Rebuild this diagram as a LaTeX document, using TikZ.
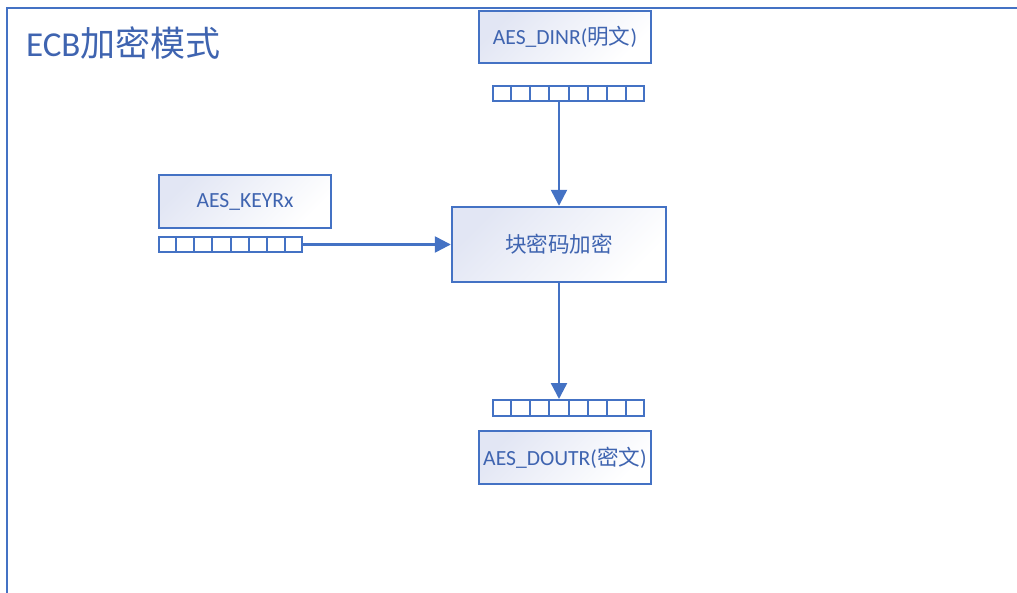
\documentclass[tikz,border=0pt]{standalone}
\usepackage{fontspec}
\setmainfont{Carlito}
\newfontfamily\cjk{Noto Sans CJK SC}
\usepackage{tikz}
\usetikzlibrary{arrows.meta,calc}
\definecolor{lineblue}{RGB}{68, 114, 196}
\definecolor{textblue}{RGB}{63, 100, 176}
\definecolor{boxtint}{RGB}{226, 230, 244}

\begin{document}
\begin{tikzpicture}[x=0.5pt, y=-0.5pt,
    every node/.style={font=\fontsize{10.8}{12}\selectfont, text=textblue},
    regbox/.style={draw=lineblue, line width=1.2pt, top color=boxtint, bottom color=white, shading angle=45, minimum width=86pt, minimum height=26pt, inner sep=0pt, align=center},
    regbar/.style={draw=lineblue, line width=1pt, fill=white, minimum height=7.5pt, inner sep=0pt},
    link/.style={draw=lineblue, line width=1.2pt, -{Triangle[length=8pt, width=8pt]}}]
    \useasboundingbox (0,0) rectangle (1017,593);

    % Frame and title
    \draw[lineblue, line width=1.1pt] (7,593) -- (7,8) -- (1017,8);
    \node[anchor=west, font=\fontsize{17.5}{20}\selectfont] (title) at (19,43) {ECB{\cjk 加密模式}};

    % Input data register
    \node[regbox] (din) at (565,37) {AES\_DINR({\cjk 明文})};
    \node[regbar, minimum width=75.5pt] (dinreg) at (568.5,93.5) {};

    % Key register
    \node[regbox, minimum height=26.5pt] (key) at (245,201.5) {AES\_KEYRx};
    \node[regbar, minimum width=71.5pt] (keyreg) at (230.5,244.5) {};

    % Cipher block
    \node[regbox, minimum width=107pt, minimum height=37.5pt] (enc) at (559,244.5) {{\cjk 块密码加密}};

    % Output data register
    \node[regbar, minimum width=75.5pt, minimum height=8pt] (doutreg) at (568.5,408) {};
    \node[regbox, minimum height=26.5pt] (dout) at (565,457.5) {AES\_DOUTR({\cjk 密文})};

    % Cell dividers
    \foreach \r in {dinreg,keyreg,doutreg}
        \foreach \i in {1,...,7}
            \draw[lineblue, line width=1pt] ($(\r.north west)!\i/8!(\r.north east)$) -- ($(\r.south west)!\i/8!(\r.south east)$);

    % Connectors
    \draw[link] (enc.north |- dinreg.south) -- (enc.north);
    \draw[link] (keyreg.east) -- (enc.west);
    \draw[link] (enc.south) -- (enc.south |- doutreg.north);
\end{tikzpicture}
\end{document}
